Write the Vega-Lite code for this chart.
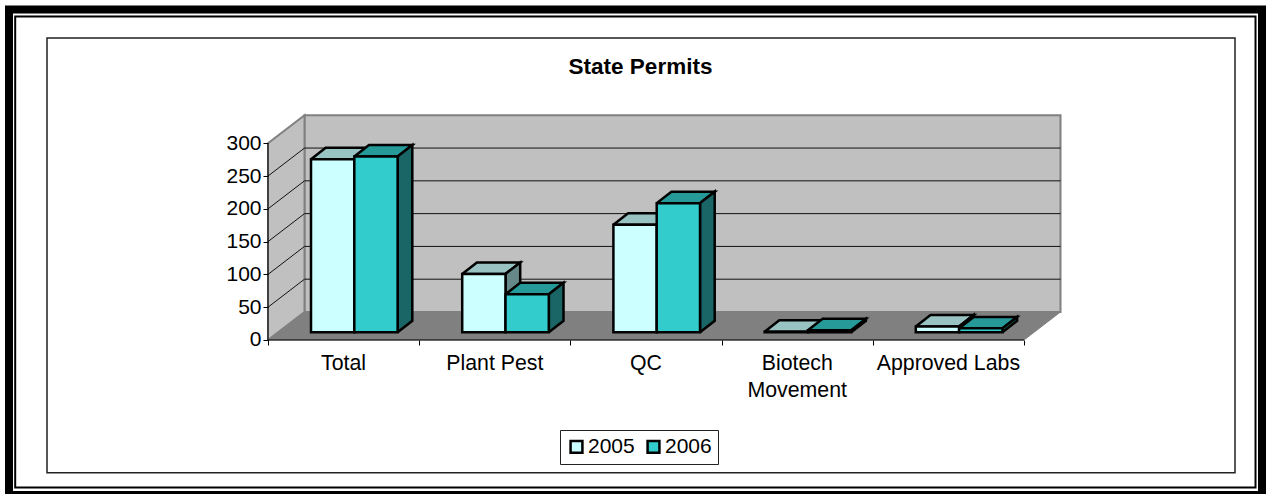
{"$schema":"https://vega.github.io/schema/vega-lite/v6.json","width":1267,"height":494,"padding":0,"autosize":{"type":"none"},"background":"white","config":{"view":{"stroke":null},"font":"Liberation Sans","axis":{"title":null,"domain":false,"grid":false}},"title":{"text":"State Permits","font":"Liberation Sans","fontSize":22.5,"fontWeight":"bold","color":"black","anchor":"middle","dx":7,"offset":-78},"datasets":{"bars":[{"category":"Total","year":2005,"value":264},{"category":"Total","year":2006,"value":268},{"category":"Plant Pest","year":2005,"value":89},{"category":"Plant Pest","year":2006,"value":58},{"category":"QC","year":2005,"value":164},{"category":"QC","year":2006,"value":197},{"category":"Biotech Movement","year":2005,"value":1},{"category":"Biotech Movement","year":2006,"value":3},{"category":"Approved Labs","year":2005,"value":9},{"category":"Approved Labs","year":2006,"value":6}],"labels":[{"label":"Total","slot":0},{"label":"Plant Pest","slot":1},{"label":"QC","slot":2},{"label":"Biotech\nMovement","slot":3},{"label":"Approved Labs","slot":4}],"grid":[{"tick":50},{"tick":100},{"tick":150},{"tick":200},{"tick":250}],"one":[{"n":1}]},"data":{"name":"bars"},"transform":[{"calculate":"indexof(['Total','Plant Pest','QC','Biotech Movement','Approved Labs'],datum.category)+0.2844+(datum.year-2005)*0.2864","as":"x0"},{"calculate":"datum.x0+0.2864","as":"x1"},{"calculate":"datum.value+11.7","as":"yt"},{"calculate":"11.7","as":"yb"}],"layer":[{"data":{"name":"one"},"transform":[{"calculate":"-1.713","as":"a"},{"calculate":"6.5741","as":"b"},{"calculate":"504","as":"c"},{"calculate":"-236.4","as":"d"}],"mark":{"type":"rect","fill":"transparent","stroke":"black","strokeWidth":8},"encoding":{"x":{"field":"a","type":"quantitative","title":null,"scale":{"domain":[-1.7725,6.6071],"nice":false,"zero":false},"axis":{"orient":"bottom","offset":-154,"values":[0,1,2,3,4,5],"labels":false,"ticks":true,"tickSize":5,"tickColor":"black","zindex":1}},"x2":{"field":"b"},"y":{"field":"c","type":"quantitative","title":null,"scale":{"domain":[-234.9,518.5],"nice":false,"zero":false},"axis":{"orient":"left","offset":-268,"values":[0,50,100,150,200,250,300],"tickSize":5,"tickColor":"black","labelFont":"Liberation Sans","labelFontSize":21,"labelColor":"black","labelPadding":2,"zindex":1}},"y2":{"field":"d"}}},{"data":{"name":"one"},"transform":[{"calculate":"-1.672","as":"a"},{"calculate":"6.5311","as":"b"},{"calculate":"493.4","as":"c"},{"calculate":"-224.9","as":"d"}],"mark":{"type":"rect","fill":"transparent","stroke":"black","strokeWidth":2},"encoding":{"x":{"field":"a","type":"quantitative"},"x2":{"field":"b"},"y":{"field":"c","type":"quantitative"},"y2":{"field":"d"}}},{"data":{"name":"one"},"transform":[{"calculate":"-1.4616","as":"a"},{"calculate":"6.3955","as":"b"},{"calculate":"460.6","as":"c"},{"calculate":"-202.4","as":"d"}],"mark":{"type":"rect","fill":"white","stroke":"#222222","strokeWidth":1.5},"encoding":{"x":{"field":"a","type":"quantitative"},"x2":{"field":"b"},"y":{"field":"c","type":"quantitative"},"y2":{"field":"d"}}},{"data":{"name":"one"},"transform":[{"calculate":"0.2414","as":"a"},{"calculate":"5.2414","as":"b"},{"calculate":"42.7","as":"c"},{"calculate":"342.7","as":"d"}],"mark":{"type":"rect","fill":"#c0c0c0","stroke":"#808080","strokeWidth":2},"encoding":{"x":{"field":"a","type":"quantitative"},"x2":{"field":"b"},"y":{"field":"c","type":"quantitative"},"y2":{"field":"d"}}},{"data":{"name":"one"},"transform":[{"calculate":"[0,0.2414,0.2414,0,0]","as":"vx"},{"calculate":"[0,42.7,342.7,300,0]","as":"vy"},{"calculate":"[0,1,2,3,4]","as":"vi"},{"flatten":["vx","vy","vi"]}],"mark":{"type":"line","fill":"#c0c0c0","stroke":"#808080","strokeWidth":2,"strokeJoin":"miter"},"encoding":{"x":{"field":"vx","type":"quantitative"},"y":{"field":"vy","type":"quantitative"},"order":{"field":"vi","type":"quantitative"}}},{"data":{"name":"one"},"transform":[{"calculate":"[0,0.2414,5.2414,5,0]","as":"vx"},{"calculate":"[0,42.7,42.7,0,0]","as":"vy"},{"calculate":"[0,1,2,3,4]","as":"vi"},{"flatten":["vx","vy","vi"]}],"mark":{"type":"line","fill":"#808080","stroke":"#808080","strokeWidth":1},"encoding":{"x":{"field":"vx","type":"quantitative"},"y":{"field":"vy","type":"quantitative"},"order":{"field":"vi","type":"quantitative"}}},{"data":{"name":"grid"},"transform":[{"calculate":"[0,0.2414,5.2414]","as":"vx"},{"calculate":"[datum.tick,datum.tick+42.7,datum.tick+42.7]","as":"vy"},{"calculate":"[0,1,2]","as":"vi"},{"flatten":["vx","vy","vi"]}],"mark":{"type":"line","stroke":"#111111","strokeWidth":1},"encoding":{"x":{"field":"vx","type":"quantitative"},"y":{"field":"vy","type":"quantitative"},"detail":{"field":"tick","type":"nominal"},"order":{"field":"vi","type":"quantitative"}}},{"data":{"name":"one"},"transform":[{"calculate":"0","as":"a"},{"calculate":"5","as":"b"},{"calculate":"0","as":"c"}],"mark":{"type":"rule","stroke":"black","strokeWidth":1},"encoding":{"x":{"field":"a","type":"quantitative"},"x2":{"field":"b"},"y":{"field":"c","type":"quantitative"}}},{"data":{"name":"one"},"transform":[{"calculate":"0","as":"a"},{"calculate":"0","as":"c"},{"calculate":"300","as":"d"}],"mark":{"type":"rule","stroke":"black","strokeWidth":1},"encoding":{"x":{"field":"a","type":"quantitative"},"y":{"field":"c","type":"quantitative"},"y2":{"field":"d"}}},{"transform":[{"filter":"datum.year==2005"},{"calculate":"[datum.x0,datum.x0+0.0972,datum.x1+0.0972,datum.x1,datum.x0]","as":"vx"},{"calculate":"[datum.yt,datum.yt+17.5,datum.yt+17.5,datum.yt,datum.yt]","as":"vy"},{"calculate":"[0,1,2,3,4]","as":"vi"},{"flatten":["vx","vy","vi"]}],"mark":{"type":"line","fill":"#99c2c2","stroke":"black","strokeWidth":2.5,"strokeJoin":"miter"},"encoding":{"x":{"field":"vx","type":"quantitative"},"y":{"field":"vy","type":"quantitative"},"detail":{"field":"category","type":"nominal"},"order":{"field":"vi","type":"quantitative"}}},{"transform":[{"filter":"datum.year==2005"},{"calculate":"[datum.x1,datum.x1+0.0972,datum.x1+0.0972,datum.x1,datum.x1]","as":"vx"},{"calculate":"[11.7,29.2,datum.yt+17.5,datum.yt,11.7]","as":"vy"},{"calculate":"[0,1,2,3,4]","as":"vi"},{"flatten":["vx","vy","vi"]}],"mark":{"type":"line","fill":"#668888","stroke":"black","strokeWidth":2.5,"strokeJoin":"miter"},"encoding":{"x":{"field":"vx","type":"quantitative"},"y":{"field":"vy","type":"quantitative"},"detail":{"field":"category","type":"nominal"},"order":{"field":"vi","type":"quantitative"}}},{"transform":[{"filter":"datum.year==2006"},{"calculate":"[datum.x0,datum.x0+0.0972,datum.x1+0.0972,datum.x1,datum.x0]","as":"vx"},{"calculate":"[datum.yt,datum.yt+17.5,datum.yt+17.5,datum.yt,datum.yt]","as":"vy"},{"calculate":"[0,1,2,3,4]","as":"vi"},{"flatten":["vx","vy","vi"]}],"mark":{"type":"line","fill":"#269999","stroke":"black","strokeWidth":2.5,"strokeJoin":"miter"},"encoding":{"x":{"field":"vx","type":"quantitative"},"y":{"field":"vy","type":"quantitative"},"detail":{"field":"category","type":"nominal"},"order":{"field":"vi","type":"quantitative"}}},{"transform":[{"filter":"datum.year==2006"},{"calculate":"[datum.x1,datum.x1+0.0972,datum.x1+0.0972,datum.x1,datum.x1]","as":"vx"},{"calculate":"[11.7,29.2,datum.yt+17.5,datum.yt,11.7]","as":"vy"},{"calculate":"[0,1,2,3,4]","as":"vi"},{"flatten":["vx","vy","vi"]}],"mark":{"type":"line","fill":"#1a6666","stroke":"black","strokeWidth":2.5,"strokeJoin":"miter"},"encoding":{"x":{"field":"vx","type":"quantitative"},"y":{"field":"vy","type":"quantitative"},"detail":{"field":"category","type":"nominal"},"order":{"field":"vi","type":"quantitative"}}},{"mark":{"type":"rect","stroke":"black","strokeWidth":2.5},"encoding":{"x":{"field":"x0","type":"quantitative"},"x2":{"field":"x1"},"y":{"field":"yb","type":"quantitative"},"y2":{"field":"yt"},"fill":{"field":"year","type":"nominal","scale":{"domain":[2005,2006],"range":["#ccffff","#33cccc"]},"legend":{"orient":"none","legendX":560,"legendY":430,"direction":"horizontal","title":null,"symbolType":"square","symbolSize":140,"symbolStrokeColor":"black","symbolStrokeWidth":2.5,"labelFont":"Liberation Sans","labelFontSize":21,"labelColor":"black","labelOffset":1,"columnPadding":7,"padding":6,"strokeColor":"#222222","fillColor":"white"}}}},{"data":{"name":"labels"},"transform":[{"calculate":"datum.slot+0.5","as":"xc"},{"calculate":"0","as":"c"}],"mark":{"type":"text","font":"Liberation Sans","fontSize":21.3,"fill":"black","align":"center","baseline":"top","lineBreak":"\n","lineHeight":27,"dy":13},"encoding":{"x":{"field":"xc","type":"quantitative"},"y":{"field":"c","type":"quantitative"},"text":{"field":"label","type":"nominal"}}}]}
